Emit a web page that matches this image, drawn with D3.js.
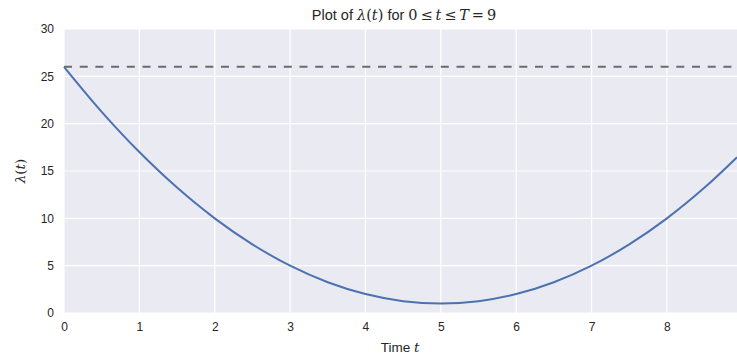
<!DOCTYPE html>
<html>
<head>
<meta charset="utf-8">
<script src="https://cdn.jsdelivr.net/npm/d3@7"></script>
<style>
  body { margin: 0; background: #fff; }
  svg { display: block; font-family: "Liberation Sans", Arial, sans-serif; }
  .math { font-family: "DejaVu Serif", "Liberation Serif", serif; }
</style>
</head>
<body>
<div id="chart"></div>
<script>
// values
const timeValues = [0, 0.5, 1, 1.5, 2, 2.5, 3, 3.5, 4, 4.5, 5, 5.5, 6, 6.5, 7, 7.5, 8, 8.5, 8.93];
const lambdaValues = [26, 21.25, 17, 13.25, 10, 7.25, 5, 3.25, 2, 1.25, 1, 1.25, 2, 3.25, 5, 7.25, 10, 13.25, 16.45];
const maxLambda = 26;
const xTicks = [0, 1, 2, 3, 4, 5, 6, 7, 8];
const yTicks = [0, 5, 10, 15, 20, 25, 30];

const width = 737, height = 357;
const margin = { top: 29, right: 0, bottom: 44, left: 64 };

const svg = d3.select('#chart')
    .append('svg')
    .attr('width', width)
    .attr('height', height);

const x = d3.scaleLinear().domain([0, 8.93]).range([margin.left, width - margin.right]);
const y = d3.scaleLinear().domain([0, 30]).range([height - margin.bottom, margin.top]);

// Plot background
svg.append('rect')
    .attr('x', margin.left)
    .attr('y', margin.top)
    .attr('width', width - margin.left - margin.right)
    .attr('height', height - margin.top - margin.bottom)
    .attr('fill', '#EAEAF2');

// Gridlines
svg.append('g')
    .selectAll('line')
    .data(xTicks)
    .enter()
    .append('line')
    .attr('x1', d => x(d)).attr('x2', d => x(d))
    .attr('y1', margin.top).attr('y2', height - margin.bottom)
    .attr('stroke', '#fff').attr('stroke-width', 1.2);

svg.append('g')
    .selectAll('line')
    .data(yTicks)
    .enter()
    .append('line')
    .attr('x1', margin.left).attr('x2', width - margin.right)
    .attr('y1', d => y(d)).attr('y2', d => y(d))
    .attr('stroke', '#fff').attr('stroke-width', 1.2);

// Axes (labels only, like seaborn darkgrid)
const xAxis = svg.append('g')
    .attr('transform', `translate(0,${height - margin.bottom})`)
    .call(d3.axisBottom(x).tickValues(xTicks).tickSize(0).tickPadding(9).tickFormat(d3.format('d')));
const yAxis = svg.append('g')
    .attr('transform', `translate(${margin.left},0)`)
    .call(d3.axisLeft(y).tickValues(yTicks).tickSize(0).tickPadding(10).tickFormat(d3.format('d')));
[xAxis, yAxis].forEach(a => {
    a.select('.domain').remove();
    a.selectAll('text')
        .attr('font-family', '"Liberation Sans", Arial, sans-serif')
        .attr('font-size', 12)
        .attr('fill', '#262626');
});

// Dashed max line
svg.append('line')
    .attr('x1', x(0)).attr('x2', x(8.93))
    .attr('y1', y(maxLambda)).attr('y2', y(maxLambda))
    .attr('stroke', '#6b6b6b')
    .attr('stroke-width', 2)
    .attr('stroke-dasharray', '8,7.7');

// Lambda curve
const line = d3.line()
    .x((d, i) => x(timeValues[i]))
    .y(d => y(d))
    .curve(d3.curveCatmullRom.alpha(0.5));

svg.append('path')
    .datum(lambdaValues)
    .attr('d', line)
    .attr('fill', 'none')
    .attr('stroke', '#4C72B0')
    .attr('stroke-width', 2);

// Title
const title = svg.append('text')
    .attr('x', 404)
    .attr('y', 20)
    .attr('text-anchor', 'middle')
    .attr('font-size', 14.5)
    .attr('fill', '#262626');
const mathIt = (sel, s) => sel.append('tspan').attr('class', 'math').attr('font-style', 'italic').text(s);
const mathUp = (sel, s) => sel.append('tspan').attr('class', 'math').text(s);
title.append('tspan').text('Plot of ');
mathIt(title, 'λ');
mathUp(title, '(');
mathIt(title, 't');
mathUp(title, ')');
title.append('tspan').text(' for ');
mathUp(title, '0\u2009≤\u2009');
mathIt(title, 't');
mathUp(title, '\u2009≤\u2009');
mathIt(title, 'T');
mathUp(title, '\u2009=\u20099');

// X label
const xl = svg.append('text')
    .attr('x', 400)
    .attr('y', 352)
    .attr('text-anchor', 'middle')
    .attr('font-size', 13.5)
    .attr('fill', '#262626');
xl.append('tspan').text('Time ');
mathIt(xl, 't');

// Y label
const yl = svg.append('text')
    .attr('transform', 'translate(25,' + y(15) + ') rotate(-90)')
    .attr('text-anchor', 'middle')
    .attr('font-size', 13.5)
    .attr('fill', '#262626');
mathIt(yl, 'λ');
mathUp(yl, '(');
mathIt(yl, 't');
mathUp(yl, ')');
</script>
</body>
</html>
